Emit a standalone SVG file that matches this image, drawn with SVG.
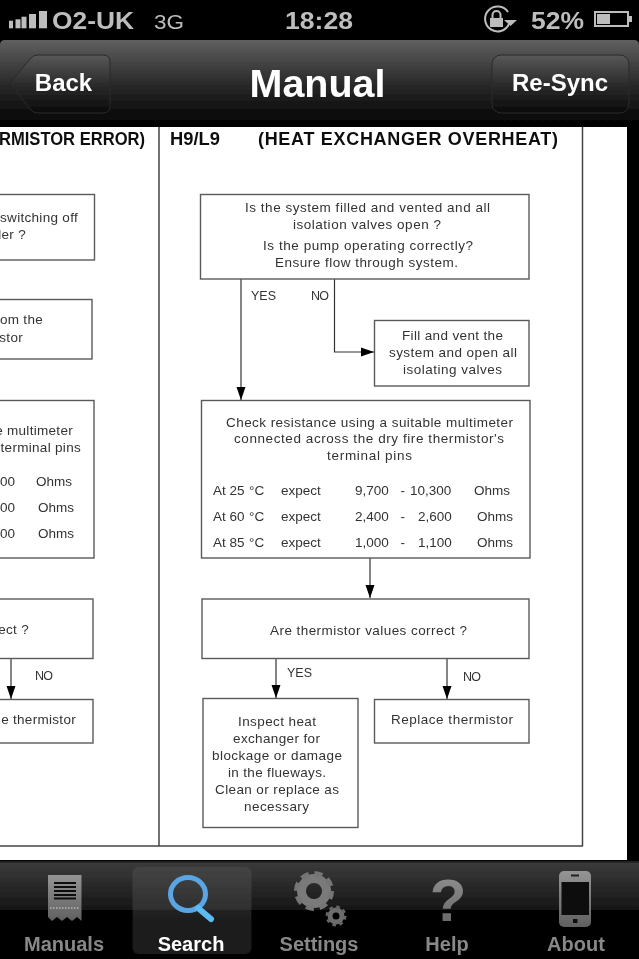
<svg xmlns="http://www.w3.org/2000/svg" width="639" height="959" viewBox="0 0 639 959">
<defs>
<filter id="soft" filterUnits="userSpaceOnUse" x="0" y="0" width="639" height="959"><feGaussianBlur stdDeviation="0.4"/></filter>
<linearGradient id="bar" x1="0" y1="0" x2="0" y2="1"><stop offset="0" stop-color="#606060"/><stop offset="0.5" stop-color="#2a2a2a"/><stop offset="1" stop-color="#000"/></linearGradient>
<linearGradient id="btn" x1="0" y1="0" x2="0" y2="1"><stop offset="0" stop-color="#585858"/><stop offset="0.5" stop-color="#2c2c2c"/><stop offset="1" stop-color="#0a0a0a"/></linearGradient>
<linearGradient id="tab" x1="0" y1="0" x2="0" y2="1"><stop offset="0" stop-color="#3c3c3c"/><stop offset="0.5" stop-color="#161616"/><stop offset="0.5" stop-color="#000"/><stop offset="1" stop-color="#000"/></linearGradient>
<linearGradient id="sel" x1="0" y1="0" x2="0" y2="1"><stop offset="0" stop-color="#444"/><stop offset="0.5" stop-color="#2e2e2e"/><stop offset="0.5" stop-color="#202020"/><stop offset="1" stop-color="#1c1c1c"/></linearGradient>
<linearGradient id="ic" x1="0" y1="0" x2="0" y2="1"><stop offset="0" stop-color="#949494"/><stop offset="1" stop-color="#606060"/></linearGradient>
<marker id="arr" markerWidth="14" markerHeight="10" refX="13" refY="5" orient="auto" markerUnits="userSpaceOnUse"><path d="M0 0.500L13 5L0 9.500z" fill="#000"/></marker>
</defs>
<style>
text{font-family:"Liberation Sans",Arial,sans-serif}
.b{fill:#fff;stroke:#5a5a5a;stroke-width:1.4}
.c{stroke:#333;stroke-width:1.2;fill:none;marker-end:url(#arr)}
.p{font-size:13.5px;fill:#333}
.y{font-size:12.5px;fill:#333}
.e{font-size:13.5px;fill:#333;text-anchor:end;letter-spacing:0.3px}
.h{font-size:18px;font-weight:bold;fill:#111}
.s{fill:#bdbdbd;font-weight:bold}
.n{font-size:20px;font-weight:bold;fill:#888;text-anchor:middle}
.w{font-size:24px;font-weight:bold;fill:#fff;text-anchor:middle}
</style>
<g id="screen" filter="url(#soft)">
<rect width="639" height="959" fill="#000"/>
<rect y="126" width="627" height="734" fill="#fff"/>
<g id="status">
<rect x="9" y="20.700" width="4" height="7.600" fill="#bdbdbd"/><rect x="15.500" y="19.300" width="5" height="9" fill="#bdbdbd"/><rect x="21.500" y="16.700" width="5" height="11.600" fill="#bdbdbd"/><rect x="29" y="14" width="7" height="14.300" fill="#bdbdbd"/><rect x="39" y="11" width="8" height="17.300" fill="#bdbdbd"/>
<text class="s" x="52" y="29" font-size="23" textLength="82" lengthAdjust="spacingAndGlyphs">O2-UK</text>
<text class="s" x="154" y="29" font-size="20" textLength="30" lengthAdjust="spacingAndGlyphs" style="font-weight:normal">3G</text>
<text class="s" x="285" y="29" font-size="23" textLength="68" lengthAdjust="spacingAndGlyphs">18:28</text>
<path d="M508 12A12.500 12.500 0 1 0 509 24" fill="none" stroke="#bdbdbd" stroke-width="2"/>
<rect x="490" y="18" width="13" height="9" fill="#bdbdbd"/><path d="M492.500 18v-3a4 4 0 0 1 8 0v3" fill="none" stroke="#bdbdbd" stroke-width="2"/>
<path d="M504 20h13l-6.500 6z" fill="#bdbdbd"/>
<text class="s" x="531" y="29" font-size="23" textLength="53" lengthAdjust="spacingAndGlyphs">52%</text>
<rect x="595" y="12" width="33" height="14" fill="none" stroke="#bdbdbd" stroke-width="2"/><rect x="597" y="14" width="13" height="10" fill="#bdbdbd"/><rect x="629" y="16" width="3" height="6" fill="#bdbdbd"/>
</g>
<g id="navbar">
<path d="M0 45Q0 40 5 40H634Q639 40 639 45V127H0z" fill="url(#bar)"/>
<g id="back"><path d="M10 83L30 59Q33 55 38 55H103Q110 55 110 62V106Q110 113 103 113H38Q33 113 30 109z" fill="url(#btn)" stroke="#2a2a2a" stroke-width="1"/><text class="w" x="63.500" y="91">Back</text></g>
<text id="title" x="249.500" y="97" font-size="38.500" font-weight="bold" fill="#fff" textLength="136" lengthAdjust="spacingAndGlyphs">Manual</text>
<g id="resync"><rect x="492" y="55" width="137" height="58" rx="9" fill="url(#btn)" stroke="#2a2a2a" stroke-width="1"/><text class="w" x="560" y="91">Re-Sync</text></g>
</g>
<g id="frame">
<path d="M159 127V846M582.500 127V846M0 846H583" stroke="#444" stroke-width="1.5" fill="none"/>
</g>
<g id="headings">
<text class="h" x="-1" y="145" textLength="146" lengthAdjust="spacingAndGlyphs">RMISTOR ERROR)</text>
<text class="h" x="170" y="145" textLength="50" lengthAdjust="spacingAndGlyphs">H9/L9</text>
<text class="h" x="258" y="145" textLength="300">(HEAT EXCHANGER OVERHEAT)</text>
</g>
<g id="connectors">
<path class="c" d="M241 279V400"/>
<path class="c" d="M334.500 279V352H374"/>
<path class="c" d="M370 558V598"/>
<path class="c" d="M276 659V698"/>
<path class="c" d="M447 659V699"/>
<path class="c" d="M11 659V699"/>
</g>
<g id="edge-labels">
<text class="y" x="251" y="300" textLength="25">YES</text>
<text class="y" x="311" y="300" textLength="18">NO</text>
<text class="y" x="287" y="677" textLength="25">YES</text>
<text class="y" x="463" y="681" textLength="18">NO</text>
<text class="y" x="35" y="680" textLength="18">NO</text>
</g>
<g id="n1"><rect class="b" x="200.500" y="194.500" width="328.500" height="84.500"/>
<text class="p" x="245" y="212" textLength="245">Is the system filled and vented and all</text>
<text class="p" x="293" y="229" textLength="148">isolation valves open ?</text>
<text class="p" x="263" y="250" textLength="210">Is the pump operating correctly?</text>
<text class="p" x="275" y="267" textLength="183">Ensure flow through system.</text></g>
<g id="n2"><rect class="b" x="374.500" y="320.500" width="154.500" height="65.500"/>
<text class="p" x="402" y="340" textLength="101">Fill and vent the</text>
<text class="p" x="389" y="357" textLength="128">system and open all</text>
<text class="p" x="403" y="374" textLength="99">isolating valves</text></g>
<g id="n3"><rect class="b" x="201.500" y="400.500" width="328.500" height="157.500"/>
<text class="p" x="226" y="427" textLength="287">Check resistance using a suitable multimeter</text>
<text class="p" x="234" y="443" textLength="270">connected across the dry fire thermistor's</text>
<text class="p" x="327" y="460" textLength="85">terminal pins</text>
<text class="p" y="495"><tspan x="213">At 25</tspan><tspan x="249">°</tspan><tspan x="254.500">C</tspan><tspan x="281">expect</tspan><tspan x="355">9,700</tspan><tspan x="400.500">-</tspan><tspan x="410">10,300</tspan><tspan x="474">Ohms</tspan></text>
<text class="p" y="521"><tspan x="213">At 60</tspan><tspan x="249">°</tspan><tspan x="254.500">C</tspan><tspan x="281">expect</tspan><tspan x="355">2,400</tspan><tspan x="400.500">-</tspan><tspan x="418">2,600</tspan><tspan x="477">Ohms</tspan></text>
<text class="p" y="547"><tspan x="213">At 85</tspan><tspan x="249">°</tspan><tspan x="254.500">C</tspan><tspan x="281">expect</tspan><tspan x="355">1,000</tspan><tspan x="400.500">-</tspan><tspan x="418">1,100</tspan><tspan x="477">Ohms</tspan></text></g>
<g id="n4"><rect class="b" x="202" y="599" width="327" height="59.500"/><text class="p" x="270" y="635" textLength="197">Are thermistor values correct ?</text></g>
<g id="n5"><rect class="b" x="203" y="698.500" width="155" height="129"/>
<text class="p" x="238" y="726" textLength="78">Inspect heat</text>
<text class="p" x="233" y="743" textLength="87">exchanger for</text>
<text class="p" x="212" y="760" textLength="130">blockage or damage</text>
<text class="p" x="228" y="777" textLength="98">in the flueways.</text>
<text class="p" x="215" y="794" textLength="124">Clean or replace as</text>
<text class="p" x="244" y="811" textLength="65">necessary</text></g>
<g id="n6"><rect class="b" x="374.500" y="699.500" width="154.500" height="43.500"/><text class="p" x="391" y="724" textLength="122">Replace thermistor</text></g>
<g id="left-n1"><rect class="b" x="-10" y="194.500" width="104.500" height="65.500"/><text class="e" x="78" y="222">switching off</text><text class="e" x="26" y="239">ler ?</text></g>
<g id="left-n2"><rect class="b" x="-10" y="299.500" width="102" height="59.500"/><text class="e" x="43" y="324">om the</text><text class="e" x="23" y="342">stor</text></g>
<g id="left-n3"><rect class="b" x="-10" y="400.500" width="104" height="157.500"/><text class="e" x="73" y="435">e multimeter</text><text class="e" x="81" y="452">terminal pins</text>
<text class="p" y="486"><tspan x="0">00</tspan><tspan x="36">Ohms</tspan></text><text class="p" y="512"><tspan x="0">00</tspan><tspan x="38">Ohms</tspan></text><text class="p" y="538"><tspan x="0">00</tspan><tspan x="38">Ohms</tspan></text></g>
<g id="left-n4"><rect class="b" x="-10" y="599" width="103" height="59.500"/><text class="e" x="29" y="634">ect ?</text></g>
<g id="left-n5"><rect class="b" x="-10" y="699.500" width="103" height="43.500"/><text class="e" x="76" y="724">e thermistor</text></g>
<g id="tabbar">
<rect y="861" width="639" height="98" fill="url(#tab)"/>
<rect y="861" width="639" height="2" fill="#222"/>
<rect x="132.500" y="867" width="119" height="87" rx="6" fill="url(#sel)"/>
<g id="tab-manuals"><path d="M48 875H81.500V921L77 917L72 921L67 917L62 921L57 917L52 921L48 917z" fill="url(#ic)"/><path d="M54 883H76M54 887H76M54 891H76M54 895H76M54 898.500H76" stroke="#111" stroke-width="2"/><path d="M50 908H80" stroke="#ddd" stroke-width="1" stroke-dasharray="1.500 1.500"/><text class="n" x="64" y="951">Manuals</text></g>
<g id="tab-search"><ellipse cx="188" cy="894" rx="17.500" ry="16.500" fill="none" stroke="#5aa6e4" stroke-width="5"/><path d="M198 908L211 919" stroke="#5cbcf2" stroke-width="6" stroke-linecap="round"/><text class="w" x="191" y="951" style="font-size:20px">Search</text></g>
<g id="tab-settings"><circle cx="314" cy="891" r="12.500" fill="none" stroke="#7a7a7a" stroke-width="9"/><circle cx="314" cy="891" r="17.500" fill="none" stroke="#757575" stroke-width="5" stroke-dasharray="8 5.740"/><circle cx="336" cy="916" r="6" fill="none" stroke="#6c6c6c" stroke-width="5"/><circle cx="336" cy="916" r="9" fill="none" stroke="#666" stroke-width="3" stroke-dasharray="3.500 3.570"/><text class="n" x="319" y="951">Settings</text></g>
<g id="tab-help"><text x="448" y="921" font-size="60" font-weight="bold" fill="url(#ic)" text-anchor="middle">?</text><text class="n" x="447" y="951">Help</text></g>
<g id="tab-about"><rect x="559" y="871" width="32" height="56" rx="5" fill="url(#ic)"/><rect x="561.500" y="882" width="27.500" height="33" fill="#0c0c0c"/><rect x="571" y="874.500" width="8" height="2" fill="#222"/><rect x="573" y="919" width="4.500" height="4" fill="#111"/><text class="n" x="576" y="951">About</text></g>
</g>
</g>
</svg>
